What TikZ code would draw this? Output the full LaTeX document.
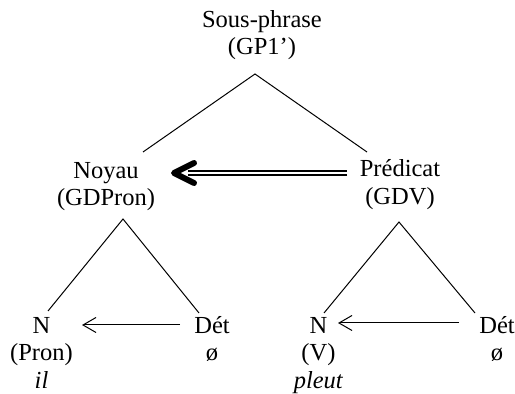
\documentclass[tikz,border=0pt]{standalone}
\usepackage{fontspec}
\setmainfont{Liberation Serif}
\usetikzlibrary{arrows.meta,calc}
\begin{document}
\begin{tikzpicture}[x=1pt,y=1pt,
  lbl/.style={anchor=north,inner sep=0pt,align=center,font=\fontsize{24.5}{27.5}\selectfont},
  branch/.style={line width=1pt},
  dep/.style={line width=1pt,-{Straight Barb[length=13pt,width=15pt]}},
  bigdep/.style={double,double distance=2pt,line width=2.3pt},
  bighead/.style={line width=6pt,line cap=round,line join=round}]
\fill[white] (0,0) rectangle (515,394);
\useasboundingbox (0,0) rectangle (515,394);
% nodes
\node[lbl] (top)  at (262,386.25) {\strut Sous-phrase\\(GP1’)};
\node[lbl] (noy)  at (106,235.25) {\strut Noyau\\(GDPron)};
\node[lbl] (pred) at (400,236.75) {\strut Prédicat\\(GDV)};
\node[lbl] (nL)   at (41.5,80.25) {\strut N\\(Pron)\\\textit{il}};
\node[lbl] (dL)   at (212,80.25)  {\strut Dét\\ø};
\node[lbl] (nR)   at (318.5,80.25) {\strut N\\(V)\\\textit{pleut}};
\node[lbl] (dR)   at (497,80.25)  {\strut Dét\\ø};
% branch points
\coordinate (a0) at (255,320);
\coordinate (l1) at (143,242);
\coordinate (r1) at (367,242);
\coordinate (a1) at (123,175);
\coordinate (l2) at (48,83);
\coordinate (r2) at (199,81);
\coordinate (a2) at (399,172);
\coordinate (l3) at (324,81);
\coordinate (r3) at (475,81);
% arrow ends
\coordinate (dLs) at (180,69);
\coordinate (nLe) at (82,69);
\coordinate (dRs) at (459,71);
\coordinate (nRe) at (338,71);
\coordinate (ps) at (347,221);
\coordinate (ne) at (188,221);
\coordinate (tip) at (174,221);
% branches
\draw[branch] (l1) -- (a0) -- (r1);
\draw[branch] (l2) -- (a1) -- (r2);
\draw[branch] (l3) -- (a2) -- (r3);
% dependencies
\draw[dep] (dLs) -- (nLe);
\draw[dep] (dRs) -- (nRe);
\draw[bigdep] (ps) -- (ne);
\draw[bighead] ($(tip)+(20,10)$) -- (tip) -- ($(tip)+(20,-10)$);
\end{tikzpicture}
\end{document}
